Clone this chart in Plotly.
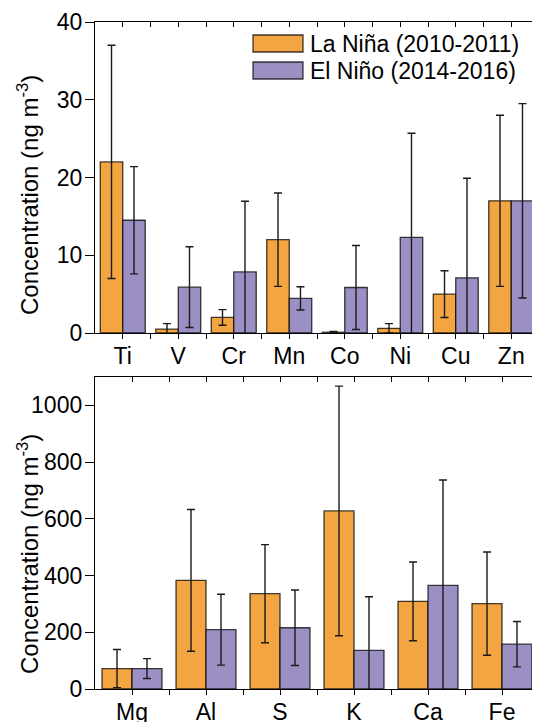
import plotly.graph_objects as go

# ---------------- data ----------------
trace_cats = ["Ti", "V", "Cr", "Mn", "Co", "Ni", "Cu", "Zn"]
trace_lanina = [22.0, 0.5, 2.0, 12.0, 0.1, 0.6, 5.0, 17.0]
trace_lanina_err = [15.0, 0.7, 1.0, 6.0, 0.1, 0.6, 3.0, 11.0]
trace_elnino = [14.5, 5.9, 7.85, 4.45, 5.85, 12.3, 7.1, 17.0]
trace_elnino_err = [6.9, 5.2, 9.1, 1.5, 5.4, 13.4, 12.8, 12.5]

major_cats = ["Mg", "Al", "S", "K", "Ca", "Fe"]
major_lanina = [72, 383, 336, 628, 309, 301]
major_lanina_err = [67, 250, 173, 440, 139, 182]
major_elnino = [72, 209, 216, 136, 365, 158]
major_elnino_err = [35, 125, 133, 189, 372, 80]

series_names = ["La Niña (2010-2011)", "El Niño (2014-2016)"]
ytitle = "Concentration (ng m<sup>-3</sup>)"

# ---------------- style ----------------
# The page body has an 8 px margin, so the figure is drawn 8 px smaller
# and all reference pixel positions are shifted by that offset.
OFF = 8
W, H = 540 - OFF, 722 - OFF
ORANGE = "#F2A540"
PURPLE = "#9B8FC4"
OUTLINE = "rgba(0,0,0,0.75)"
FONT = "Liberation Sans, Arial, sans-serif"
FS = 23
FT = 24

def px_x(p):
    return (p - OFF) / W

def px_y(p):
    return 1 - (p - OFF) / H

xdom = [px_x(95), px_x(539)]
top_dom = [px_y(333), px_y(22)]
bot_dom = [px_y(689), px_y(377)]

fig = go.Figure()

def add_bars(cats, vals, errs, color, name, xa, ya):
    fig.add_trace(go.Bar(
        x=cats, y=vals, name=name,
        marker=dict(color=color, line=dict(color=OUTLINE, width=1.3)),
        error_y=dict(type="data", array=errs, visible=True,
                     color="#1a1a1a", thickness=1.4, width=4),
        xaxis=xa, yaxis=ya, showlegend=False,
    ))

add_bars(trace_cats, trace_lanina, trace_lanina_err, ORANGE, series_names[0], "x", "y")
add_bars(trace_cats, trace_elnino, trace_elnino_err, PURPLE, series_names[1], "x", "y")
add_bars(major_cats, major_lanina, major_lanina_err, ORANGE, series_names[0], "x2", "y2")
add_bars(major_cats, major_elnino, major_elnino_err, PURPLE, series_names[1], "x2", "y2")

# invisible helper traces (same data) so that the tick-only overlay axes are drawn
def ghost(xv, yv, xa, ya):
    fig.add_trace(go.Scatter(x=xv, y=yv, xaxis=xa, yaxis=ya, mode="markers",
                             marker=dict(opacity=0, size=1), showlegend=False,
                             hoverinfo="skip"))

idx1 = list(range(len(trace_cats)))
idx2 = list(range(len(major_cats)))
ghost(idx1, trace_lanina, "x3", "y")
ghost(idx1, trace_lanina, "x5", "y")
ghost(trace_cats, trace_lanina, "x", "y3")
ghost(idx2, major_lanina, "x4", "y2")
ghost(idx2, major_lanina, "x6", "y2")
ghost(major_cats, major_lanina, "x2", "y4")

axline = dict(showline=True, linecolor="black", linewidth=1.3,
              showgrid=False, zeroline=False, tickcolor="black", tickwidth=1.3,
              automargin=False)
tickfont = dict(family=FONT, size=FS, color="black")
plain = dict(showgrid=False, zeroline=False, tickcolor="black", tickwidth=1.3,
             automargin=False, showticklabels=False, fixedrange=True)

n1, n2 = len(trace_cats), len(major_cats)

fig.update_layout(
    width=W, height=H,
    margin=dict(l=0, r=0, t=0, b=0, autoexpand=False),
    paper_bgcolor="white", plot_bgcolor="white",
    barmode="group", bargap=0.19, bargroupgap=0,
    font=dict(family=FONT, size=FS, color="black"),
    # top panel
    xaxis=dict(domain=xdom, anchor="y", type="category",
               range=[-0.5, n1 - 0.5], ticks="outside", ticklen=5,
               ticklabelstandoff=-3, tickfont=tickfont, **axline),
    yaxis=dict(domain=top_dom, anchor="x", range=[0, 40], dtick=10,
               ticks="outside", ticklen=9, ticklabelstandoff=-2,
               tickfont=tickfont, **axline),
    xaxis3=dict(overlaying="x", anchor="y", side="bottom", type="linear",
                range=[-0.5, n1 - 0.5],
                tickvals=[i + 0.5 for i in range(n1 - 1)],
                ticks="outside", ticklen=5, showline=False, **plain),
    xaxis5=dict(overlaying="x", anchor="y", side="top", type="linear",
                range=[-0.5, n1 - 0.5], tick0=0, dtick=0.5,
                ticks="inside", ticklen=5, showline=True, linecolor="black",
                linewidth=1.3, **plain),
    yaxis3=dict(overlaying="y", anchor="x", side="right", range=[0, 40],
                tick0=0, dtick=5, ticks="inside", ticklen=5, showline=True,
                linecolor="black", linewidth=1.3, **plain),
    # bottom panel
    xaxis2=dict(domain=xdom, anchor="y2", type="category",
                range=[-0.5, n2 - 0.5], ticks="outside", ticklen=5,
                ticklabelstandoff=-3, tickfont=tickfont, **axline),
    yaxis2=dict(domain=bot_dom, anchor="x2", range=[0, 1100], dtick=200,
                ticks="outside", ticklen=9, ticklabelstandoff=-2,
                tickfont=tickfont, **axline),
    xaxis4=dict(overlaying="x2", anchor="y2", side="bottom", type="linear",
                range=[-0.5, n2 - 0.5],
                tickvals=[i + 0.5 for i in range(n2 - 1)],
                ticks="outside", ticklen=5, showline=False, **plain),
    xaxis6=dict(overlaying="x2", anchor="y2", side="top", type="linear",
                range=[-0.5, n2 - 0.5], tick0=0, dtick=0.5,
                ticks="inside", ticklen=5, showline=True, linecolor="black",
                linewidth=1.3, **plain),
    yaxis4=dict(overlaying="y2", anchor="x2", side="right", range=[0, 1100],
                tick0=0, dtick=100, ticks="inside", ticklen=5, showline=True,
                linecolor="black", linewidth=1.3, **plain),
)

# y-axis titles
for yc in (195, 554):
    fig.add_annotation(text=ytitle, textangle=-90, xref="paper", yref="paper",
                       x=px_x(28), y=px_y(yc), xanchor="center", yanchor="middle",
                       showarrow=False, font=dict(family=FONT, size=FT, color="black"))

# legend (drawn manually to match the wide swatches)
for (top, bot, mid), color, name in zip([(35, 52, 43.5), (62, 79, 70.5)],
                                         [ORANGE, PURPLE], series_names):
    fig.add_shape(type="rect", xref="paper", yref="paper",
                  x0=px_x(253), x1=px_x(303), y0=px_y(bot), y1=px_y(top),
                  fillcolor=color, line=dict(color=OUTLINE, width=1.3))
    fig.add_annotation(text=name, xref="paper", yref="paper",
                       x=px_x(308), y=px_y(mid), xanchor="left", yanchor="middle",
                       showarrow=False, font=dict(family=FONT, size=FS, color="black"))

fig.write_html("out.html")
